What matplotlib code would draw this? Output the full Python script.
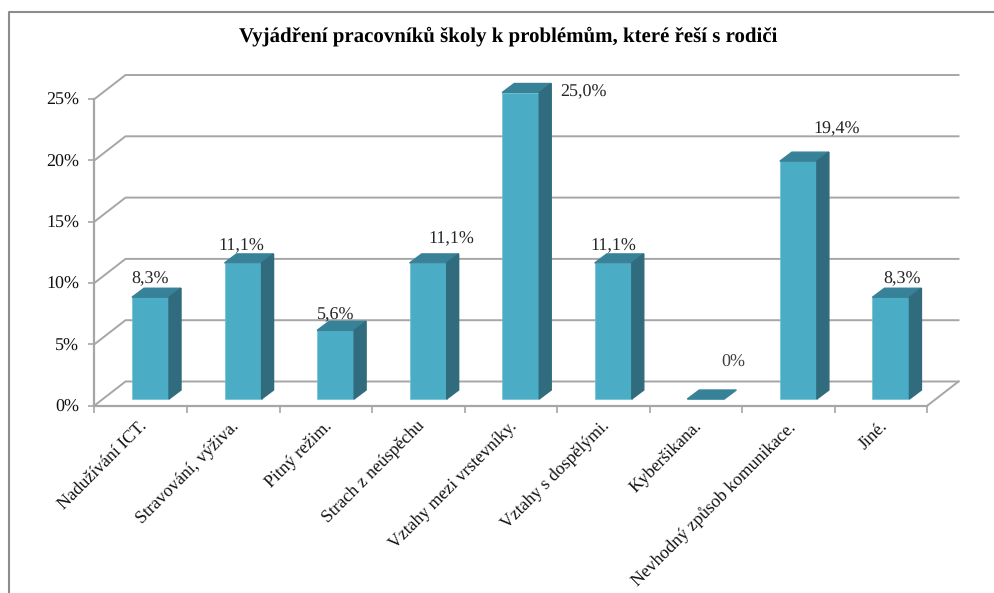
import matplotlib
matplotlib.use('Agg')
import matplotlib.pyplot as plt
from matplotlib.patches import Polygon
from matplotlib.lines import Line2D

categories = ['Nadužívání ICT.', 'Stravování, výživa.', 'Pitný režim.', 'Strach z neúspěchu',
              'Vztahy mezi vrstevníky.', 'Vztahy s dospělými.', 'Kyberšikana.',
              'Nevhodný způsob komunikace.', 'Jiné.']
values = [8.3, 11.1, 5.6, 11.1, 25.0, 11.1, 0, 19.4, 8.3]
value_labels = ['8,3%', '11,1%', '5,6%', '11,1%', '25,0%', '11,1%', '0%', '19,4%', '8,3%']
y_ticks = [0, 5, 10, 15, 20, 25]

# offsets of the labels from the top of each bar, in data units
label_dx = [0.0, -0.02, 0.0, 0.25, 0.68, 0.0, 0.3, 0.41, 0.12]
label_dy = [1.48, 1.35, 1.25, 1.92, 0.08, 1.35, 3.0, 2.63, 1.51]

plt.rcParams['font.family'] = ['Liberation Serif', 'DejaVu Serif']
plt.rcParams['text.hinting'] = 'none'

W, H = 995, 593
fig = plt.figure(figsize=(W / 100, H / 100), dpi=100)
ax = fig.add_axes([94.5 / W, 1 - 405.5 / H, 833 / W, 306.5 / H])
ax.set_xlim(0, 9)
ax.set_ylim(0, 25)
ax.patch.set_visible(False)

grey = '#a6a6a6'
depth_x = 31 / 92.55
depth_y = 24 / 12.26

# back wall gridlines and the floor
for t in y_ticks:
    ax.plot([0, depth_x, 9 + depth_x], [t, t + depth_y, t + depth_y], color=grey, lw=1.4,
            clip_on=False, zorder=1)
ax.plot([9, 9 + depth_x], [0, depth_y], color=grey, lw=1.4, clip_on=False, zorder=1)

# bars: front face plus top and side
front = '#4bacc6'
top = '#388299'
side = '#316c7e'
bar_w = 0.4
bar_dx = 12 / 92.55
bar_dy = 9 / 12.26
base_y = 0.53
for i, v in enumerate(values):
    x0 = i + 0.405
    x1 = x0 + bar_w
    ax.bar(x0, v, width=bar_w, bottom=base_y, align='edge', color=front, edgecolor='#6fc0d6', lw=0.5,
           clip_on=False, zorder=3)
    ax.add_patch(Polygon([(x0, base_y + v), (x1, base_y + v), (x1 + bar_dx, base_y + v + bar_dy),
                          (x0 + bar_dx, base_y + v + bar_dy)], closed=True, color=top, clip_on=False, zorder=3))
    if v > 0:
        ax.add_patch(Polygon([(x1, base_y), (x1 + bar_dx, base_y + bar_dy), (x1 + bar_dx, base_y + v + bar_dy),
                              (x1, base_y + v)], closed=True, color=side, clip_on=False, zorder=3))
    ax.text(x0 + bar_w / 2 + label_dx[i], base_y + v + label_dy[i], value_labels[i], ha='center', va='center',
            fontsize=13, color='#262626' if v > 0 else '#404040', zorder=4)

# axes
for s in ['top', 'right']:
    ax.spines[s].set_visible(False)
for s in ['left', 'bottom']:
    ax.spines[s].set_color(grey)
    ax.spines[s].set_linewidth(1.6)
ax.set_yticks(y_ticks)
ax.set_yticklabels([str(t) + '%' for t in y_ticks], fontsize=13, color='#111111')
ax.tick_params(axis='y', length=4, width=1.2, color=grey, pad=7)
ax.set_xticks(range(10))
ax.set_xticklabels([])
ax.tick_params(axis='x', length=5, width=1.2, color=grey)
ax.set_xticks([i + 0.475 for i in range(9)], minor=True)
ax.set_xticklabels(categories, minor=True, rotation=45, ha='right', va='top', rotation_mode='anchor',
                   fontsize=12.8, color='#111111')
ax.tick_params(axis='x', which='minor', length=0, pad=9)

fig.text(508.5 / W, 1 - 36 / H, 'Vyjádření pracovníků školy k problémům, které řeší s rodiči', ha='center',
         va='center', fontsize=15, fontweight='bold', color='black')

# chart frame: left and top edges only
fig.add_artist(Line2D([9 / W, 9 / W, 1], [0, 1 - 12 / H, 1 - 12 / H], color='#8c8c8c', lw=1.5))

fig.savefig('out.png', dpi=100)
